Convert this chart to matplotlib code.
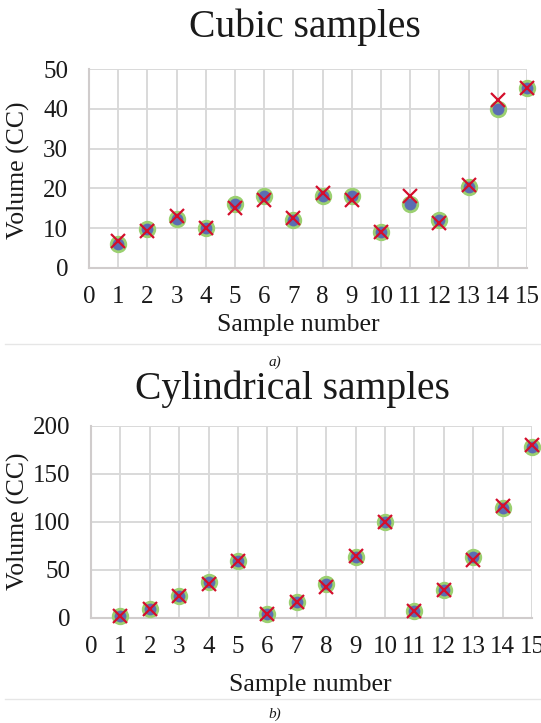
import matplotlib as mpl

mpl.use('Agg')
import matplotlib.pyplot as plt

# sample numbers and measured / calculated volumes (CC)
samples = list(range(1, 16))

cubic_measured = [6.0, 9.9, 12.3, 10.0, 16.1, 18.0, 12.1, 18.0, 18.0, 9.0, 16.1, 12.1, 20.3, 40.0, 45.2]
cubic_calc = [6.9, 9.2, 13.0, 10.0, 15.2, 17.1, 12.5, 18.8, 17.1, 9.0, 18.0, 11.3, 20.9, 42.2, 45.2]

cyl_measured = [2.1, 9.1, 22.6, 37.6, 59.5, 4.5, 16.7, 35.2, 63.8, 99.7, 7.3, 28.9, 63.8, 114.3, 178.0]
cyl_calc = [2.0, 9.1, 22.6, 35.0, 59.5, 4.5, 16.7, 32.4, 64.5, 100.3, 7.0, 28.9, 60.3, 116.7, 180.5]

xticks = list(range(0, 16))
cubic_yticks = [0, 10, 20, 30, 40, 50]
cyl_yticks = [0, 50, 100, 150, 200]

plt.rcParams['font.family'] = ['Liberation Serif', 'DejaVu Serif']
text_col = '#1a1a1a'
grid_col = '#d9d9d9'
blue = '#5b6db3'
green = '#9bd070'
red = '#d40e2c'

fig = plt.figure(figsize=(5.41, 7.23), dpi=100)
W, H = 541, 723


def axes_px(left, top, right, bottom):
    return fig.add_axes([left / W, 1 - bottom / H, (right - left) / W, (bottom - top) / H])


def draw(ax, measured, calc, yticks):
    ax.set_xlim(0, 15)
    ax.set_ylim(yticks[0], yticks[-1])
    ax.set_xticks(xticks)
    ax.set_yticks(yticks)
    ax.grid(True, color=grid_col, linewidth=1.4)
    ax.set_axisbelow(True)
    for side in ['top', 'right']:
        ax.spines[side].set_visible(False)
    for side in ['left', 'bottom']:
        ax.spines[side].set_color('#d0cccc')
        ax.spines[side].set_linewidth(1.5)
    ax.tick_params(length=0, labelsize=18, colors=text_col)
    ax.tick_params(axis='y', pad=15)
    ax.tick_params(axis='x', pad=13)
    ax.plot(samples, measured, 'o', ms=10.5, mfc=blue, mec=green, mew=2, clip_on=False, zorder=3)
    ax.plot(samples, calc, 'x', ms=10, mec=red, mew=1.6, clip_on=False, zorder=4)


ax1 = axes_px(89, 69, 527, 268)
draw(ax1, cubic_measured, cubic_calc, cubic_yticks)
ax2 = axes_px(91, 426, 532, 618)
draw(ax2, cyl_measured, cyl_calc, cyl_yticks)

kw = dict(ha='center', va='center', color=text_col)
fig.text(305 / W, 1 - 27 / H, 'Cubic samples', fontsize=28.5, **kw)
fig.text(298 / W, 1 - 325 / H, 'Sample number', fontsize=18.5, **kw)
fig.text(18 / W, 1 - 170 / H, 'Volume (CC)', fontsize=18.5, rotation=90, **kw)
fig.text(275 / W, 1 - 362 / H, 'a)', fontsize=11, style='italic', **kw)

fig.text(292 / W, 1 - 389 / H, 'Cylindrical samples', fontsize=28.5, **kw)
fig.text(310 / W, 1 - 685 / H, 'Sample number', fontsize=18.5, **kw)
fig.text(18 / W, 1 - 521 / H, 'Volume (CC)', fontsize=18.5, rotation=90, **kw)
fig.text(275 / W, 1 - 714 / H, 'b)', fontsize=11, style='italic', **kw)

# thin separators under each panel
for y in [344, 699]:
    fig.add_artist(plt.Line2D([5 / W, 1], [1 - y / H, 1 - y / H], color='#e6e6e6', linewidth=1))

fig.savefig('out.png', dpi=100)
